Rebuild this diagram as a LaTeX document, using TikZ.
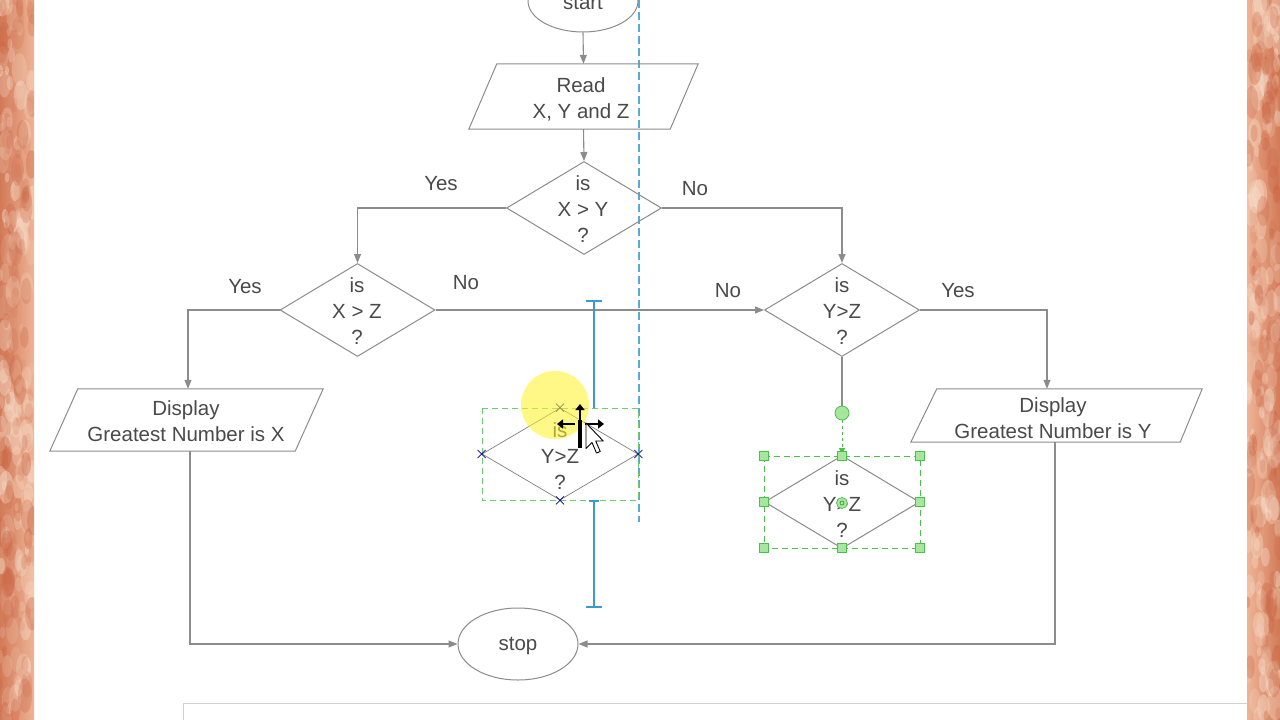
\documentclass[tikz,border=0pt]{standalone}
\usepackage{fontspec}
\setmainfont{Liberation Sans}
\usetikzlibrary{shapes.geometric,arrows.meta,calc}
\definecolor{ln}{HTML}{8C8C8C}
\definecolor{tx}{HTML}{4A4A4A}
\definecolor{gd}{HTML}{3A9AD0}
\definecolor{gl}{HTML}{5AAAD8}
\definecolor{hg}{HTML}{4CBF4C}
\definecolor{hf}{HTML}{A6E69E}
\definecolor{orA}{HTML}{EEB496}
\definecolor{orB}{HTML}{D27A58}
\definecolor{orC}{HTML}{F8DCC8}
\definecolor{orD}{HTML}{C8603E}
\begin{document}
\begin{tikzpicture}[x=1pt,y=-1pt,
  flow/.style={draw=ln, line width=1.1pt},
  arr/.style={flow, -{Triangle[length=9pt,width=7pt]}},
  txt/.style={text=tx, font=\fontsize{20.5}{26}\selectfont, align=center, inner sep=0pt},
  lbl/.style={text=tx, font=\fontsize{20.5}{24}\selectfont, inner sep=0pt},
  dia/.style={diamond, draw=ln, line width=1pt, minimum width=155pt, minimum height=93pt, inner sep=0pt},
  term/.style={ellipse, draw=ln, line width=1pt, inner sep=0pt},
  iobox/.style={rectangle, draw=none, inner sep=0pt},
  para/.style={draw=ln, line width=1pt},
  handle/.style={draw=hg, fill=hf, line width=0.8pt, minimum size=9pt, inner sep=0pt, rectangle},
  xmark/.style={draw=blue!60!black, line width=0.8pt},
]
\useasboundingbox (0,0) rectangle (1280,720);
\clip (0,0) rectangle (1280,720);
\fill[white] (0,0) rectangle (1280,720);

% side strips
\begin{scope}
  \clip (0,0) rectangle (34,720);
  \shade[left color=orB, right color=orA] (0,0) rectangle (34,720);
  \pgfmathsetseed{11}
  \foreach \i in {1,...,140}{
    \pgfmathsetmacro{\yy}{rnd*720}
    \pgfmathsetmacro{\xx}{rnd*34}
    \pgfmathsetmacro{\rr}{2+rnd*6}
    \pgfmathsetmacro{\op}{0.15+rnd*0.3}
    \fill[orC, opacity=\op] (\xx,\yy) ellipse [x radius=\rr, y radius=\rr*2.2];
  }
  \foreach \i in {1,...,90}{
    \pgfmathsetmacro{\yy}{rnd*720}
    \pgfmathsetmacro{\xx}{rnd*34}
    \pgfmathsetmacro{\rr}{2+rnd*5}
    \pgfmathsetmacro{\op}{0.1+rnd*0.25}
    \fill[orD, opacity=\op] (\xx,\yy) ellipse [x radius=\rr, y radius=\rr*2.5];
  }
\end{scope}
\begin{scope}
  \clip (1247,0) rectangle (1280,720);
  \shade[left color=orA, right color=orB] (1247,0) rectangle (1280,720);
  \pgfmathsetseed{23}
  \foreach \i in {1,...,140}{
    \pgfmathsetmacro{\yy}{rnd*720}
    \pgfmathsetmacro{\xx}{1247+rnd*33}
    \pgfmathsetmacro{\rr}{2+rnd*6}
    \pgfmathsetmacro{\op}{0.15+rnd*0.3}
    \fill[orC, opacity=\op] (\xx,\yy) ellipse [x radius=\rr, y radius=\rr*2.2];
  }
  \foreach \i in {1,...,90}{
    \pgfmathsetmacro{\yy}{rnd*720}
    \pgfmathsetmacro{\xx}{1247+rnd*33}
    \pgfmathsetmacro{\rr}{2+rnd*5}
    \pgfmathsetmacro{\op}{0.1+rnd*0.25}
    \fill[orD, opacity=\op] (\xx,\yy) ellipse [x radius=\rr, y radius=\rr*2.5];
  }
\end{scope}

% bottom panel edge
\draw[gray!35, line width=1pt] (183,720) -- (183,703) -- (1247,703);

% blue guide line
\draw[gl, line width=1.2pt, dash pattern=on 8pt off 4pt] (639,0) -- (639,522);

% nodes
\node[term, minimum width=110pt, minimum height=62pt] (start) at (583,1) {};
\node[txt] (starttxt) at (583,3) {start};

\node[iobox, minimum width=229pt, minimum height=65pt] (read) at (583.5,96.5) {};
\draw[para] ($(read.north west)+(28,0)$) -- (read.north east) -- ($(read.south east)-(28,0)$) -- (read.south west) -- cycle;
\node[txt] (readtxt) at (581,99) {Read\\X, Y and Z};

\node[dia] (d1) at (584,208) {};
\node[txt] (d1t) at (583,209) {is\\X > Y\\?};

\node[dia] (d2) at (357.5,310) {};
\node[txt] (d2t) at (357,311) {is\\X > Z\\?};

\node[dia] (d3) at (842,310) {};
\node[txt] (d3t) at (842,311) {is\\Y>Z\\?};

\node[iobox, minimum width=273pt, minimum height=62pt] (dx) at (186.5,420) {};
\draw[para] ($(dx.north west)+(28,0)$) -- (dx.north east) -- ($(dx.south east)-(28,0)$) -- (dx.south west) -- cycle;
\node[txt] (dxt) at (186,421) {Display\\Greatest Number is X};

\node[iobox, minimum width=291pt, minimum height=53pt] (dy) at (1056.5,415.5) {};
\draw[para] ($(dy.north west)+(26,0)$) -- (dy.north east) -- ($(dy.south east)-(22,0)$) -- (dy.south west) -- cycle;
\node[txt] (dyt) at (1053,418) {Display\\Greatest Number is Y};

\node[term, minimum width=120pt, minimum height=72pt] (stop) at (518,644) {};
\node[txt] (stopt) at (518,646) {stop};

% connectors
\draw[arr] (start.south) -- (read.north);
\draw[arr] (read.south) -- (d1.north);
\draw[arr] (d1.west) -| (d2.north);
\draw[arr] (d1.east) -| (d3.north);
\draw[arr] (d2.west) -| ([xshift=1.5pt]dx.north);
\draw[arr] (d2.east) -- (d3.west);
\draw[arr] (d3.east) -| ([xshift=-9.5pt]dy.north);
\draw[arr] ([xshift=3.5pt]dx.south) |- (stop.west);
\draw[arr] ([xshift=-1.5pt]dy.south) |- (stop.east);

% labels
\node[lbl] (l1) at (441,184) {Yes};
\node[lbl] (l2) at (695,189) {No};
\node[lbl] (l3) at (245,287) {Yes};
\node[lbl] (l4) at (466,283) {No};
\node[lbl] (l5) at (728,291) {No};
\node[lbl] (l6) at (958,291) {Yes};

% selected diamond (right)
\node[dia] (sd) at (842,502) {};
\node[txt] (sdt) at (842,504) {is\\Y>Z\\?};
\node[circle, draw=hg, fill=hf, line width=0.7pt, minimum size=11pt, inner sep=0pt] (sdc) at (842,503) {};
\node[circle, draw=hg!70!black, line width=0.6pt, minimum size=4pt, inner sep=0pt] (sdcc) at (842,503) {};
\node[circle, draw=hg, fill=hf, line width=0.8pt, minimum size=14pt, inner sep=0pt] (gc) at (842,413) {};
\draw[flow] (d3.south) -- (gc.north);
\draw[hg, line width=1pt, dashed, -{Triangle[length=7pt,width=6pt]}] (gc.south) -- (sd.north);
\draw[hg, line width=1pt, dash pattern=on 6pt off 4pt] (764,456) rectangle (920,548);
\foreach \p/\q [count=\k] in {764/456, 842/456, 920/456, 764/502, 920/502, 764/548, 842/548, 920/548}
  \node[handle] (h\k) at (\p,\q) {};

% ghost diamond being dragged
\draw[hg!80, line width=1pt, dash pattern=on 6pt off 4pt] (482,408) rectangle (638,500);
\node[diamond, draw=gray, line width=0.7pt, minimum width=156pt, minimum height=92pt, inner sep=0pt] (gh) at (560,454) {};
\node[txt] (ght) at (560,456) {is\\Y>Z\\?};
\foreach \a in {north,south,east,west}{
  \draw[xmark] ([shift={(-4,-4)}]gh.\a) -- ([shift={(4,4)}]gh.\a);
  \draw[xmark] ([shift={(-4,4)}]gh.\a) -- ([shift={(4,-4)}]gh.\a);
}
% blue I-beam guide
\draw[gd, line width=1.2pt] (594,301) -- (594,408);
\draw[gd, line width=1.2pt] (586,301) -- (602,301);
\draw[gd, line width=1.2pt] (594,501) -- (594,607);
\draw[gd, line width=1.2pt] (586,607) -- (602,607);
\draw[gd, line width=1.2pt] (589,501) -- (599,501);

% yellow highlight
\fill[yellow!85!white, opacity=0.55] (555,405) circle (34);

% cursor: move cross and pointer
\draw[black, line width=2.4pt, -{Triangle[length=6pt,width=9pt]}] (580,421) -- (580,404);
\draw[black, line width=2.4pt, -{Triangle[length=6pt,width=9pt]}] (575,424) -- (557,424);
\draw[black, line width=2.4pt, -{Triangle[length=6pt,width=9pt]}] (585,424) -- (604,424);
\draw[black, line width=3.5pt] (580,420) -- (580,448);
\begin{scope}[shift={(586,423)}, scale=1.5]
  \draw[black, fill=white, line width=0.9pt, line join=round] (0,0) -- (0,17) -- (4,13) -- (7,20) -- (9.5,19) -- (6.5,12) -- (11.5,12) -- cycle;
\end{scope}
\end{tikzpicture}
\end{document}
